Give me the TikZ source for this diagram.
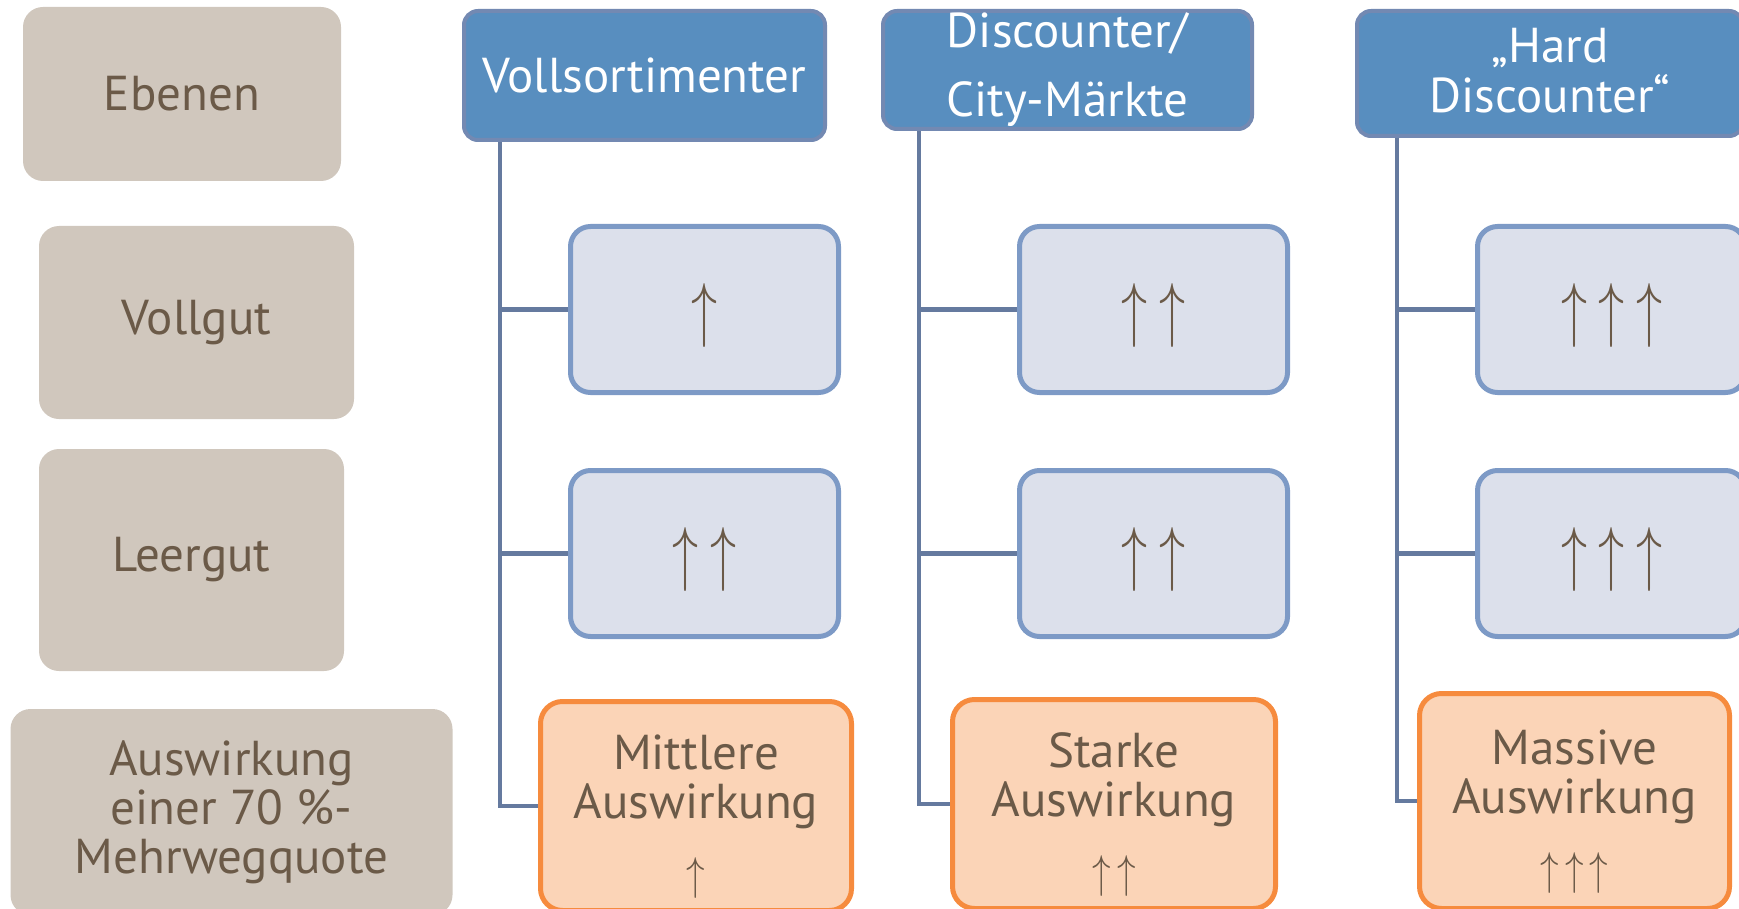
\documentclass[tikz,border=0pt]{standalone}
\usepackage{fontspec}
\setmainfont{PT Sans}
\usetikzlibrary{backgrounds}
\definecolor{beige}{HTML}{D0C7BD}
\definecolor{brn}{HTML}{6B5A48}
\definecolor{hfill}{HTML}{588EBF}
\definecolor{hline}{HTML}{7389B2}
\definecolor{cfill}{HTML}{DCE0EB}
\definecolor{cline}{HTML}{7D9AC6}
\definecolor{ofill}{HTML}{FBD4B7}
\definecolor{oline}{HTML}{F68B3E}
\definecolor{lnk}{HTML}{657A9F}
\newcommand\arrA{{\fontsize{10}{12}\selectfont\scalebox{5.2}[7.2]{$\uparrow$}}}
\newcommand\arrB{{\fontsize{10}{12}\selectfont\scalebox{3.7}[4.6]{$\uparrow$}}}
\newcommand\gapA{\hspace{11.5pt}}
\newcommand\gapB{\hspace{6pt}}
\newcommand\cstrut{\rule{0pt}{62pt}}
\newcommand\ostrut{\rule{0pt}{55pt}}
\tikzset{
  base/.style={rounded corners=20pt, inner sep=0pt, align=center,
    font=\fontsize{49}{49}\selectfont},
  lvl/.style={base, fill=beige, text=brn},
  hdr/.style={base, fill=hfill, draw=hline, line width=4pt, rounded corners=14pt, text=white},
  cbox/.style={base, fill=cfill, draw=cline, line width=5pt, text=brn,
    minimum width=268pt, minimum height=166pt},
  obox/.style={base, fill=ofill, draw=oline, line width=5pt, rounded corners=22pt, text=brn},
  conn/.style={draw=lnk, line width=4.5pt},
}
\begin{document}
\begin{tikzpicture}[x=1pt,y=-1pt]
\useasboundingbox (0,0) rectangle (1739,909);
\clip (0,0) rectangle (1739,909);
% left level column
\node[lvl, minimum width=318pt, minimum height=174pt] (e) at (182,94) {Ebenen};
\node[lvl, minimum width=315pt, minimum height=193pt] (v) at (196.5,322.5) {Vollgut};
\node[lvl, minimum width=305pt, minimum height=222pt] (l) at (191.5,560) {Leergut};
\node[lvl, minimum width=442pt, minimum height=206pt] (a) at (231.5,812) {Auswirkung\\einer 70 \%-\\Mehrwegquote};
% headers
\node[hdr, minimum width=361pt, minimum height=129pt] (h1) at (644.5,75.5) {Vollsortimenter};
\node[hdr, minimum width=369pt, minimum height=118pt, font=\fontsize{49}{69}\selectfont] (h2) at (1067.5,70) {Discounter/\\City-Märkte};
\node[hdr, minimum width=386pt, minimum height=125pt, font=\fontsize{49}{50}\selectfont] (h3) at (1550,73.5) {„Hard\\Discounter“\rule[-6pt]{0pt}{6pt}};
% children
\node[cbox] (c11) at (704.5,309.5) {\cstrut\arrA};
\node[cbox] (c12) at (704.5,553.5) {\cstrut\arrA\gapA\arrA};
\node[cbox] (c21) at (1153.5,309.5) {\cstrut\arrA\gapA\arrA};
\node[cbox] (c22) at (1153.5,553.5) {\cstrut\arrA\gapA\arrA};
\node[cbox] (c31) at (1611.5,309.5) {\cstrut\arrA\gapA\arrA\gapA\arrA};
\node[cbox] (c32) at (1611.5,553.5) {\cstrut\arrA\gapA\arrA\gapA\arrA};
% outcome boxes
\node[obox, minimum width=311pt, minimum height=209pt] (o1) at (696,806)
  {\ostrut Mittlere\\Auswirkung\\[22pt]\arrB};
\node[obox, minimum width=323pt, minimum height=209pt] (o2) at (1114,804)
  {\ostrut Starke\\Auswirkung\\[22pt]\arrB\gapB\arrB};
\node[obox, minimum width=310pt, minimum height=215pt] (o3) at (1574.5,801)
  {\ostrut Massive\\Auswirkung\\[22pt]\arrB\gapB\arrB\gapB\arrB};
% trunks
\coordinate (t1) at (500,138);
\coordinate (t2) at (919,127);
\coordinate (t3) at (1397,134);
\begin{scope}[on background layer]
\draw[conn] (t1) |- (o1.west);
\draw[conn] (t1 |- c11.west) -- (c11.west);
\draw[conn] (t1 |- c12.west) -- (c12.west);
\draw[conn] (t2) |- (o2.west);
\draw[conn] (t2 |- c21.west) -- (c21.west);
\draw[conn] (t2 |- c22.west) -- (c22.west);
\draw[conn] (t3) |- (o3.west);
\draw[conn] (t3 |- c31.west) -- (c31.west);
\draw[conn] (t3 |- c32.west) -- (c32.west);
\end{scope}
\end{tikzpicture}
\end{document}
